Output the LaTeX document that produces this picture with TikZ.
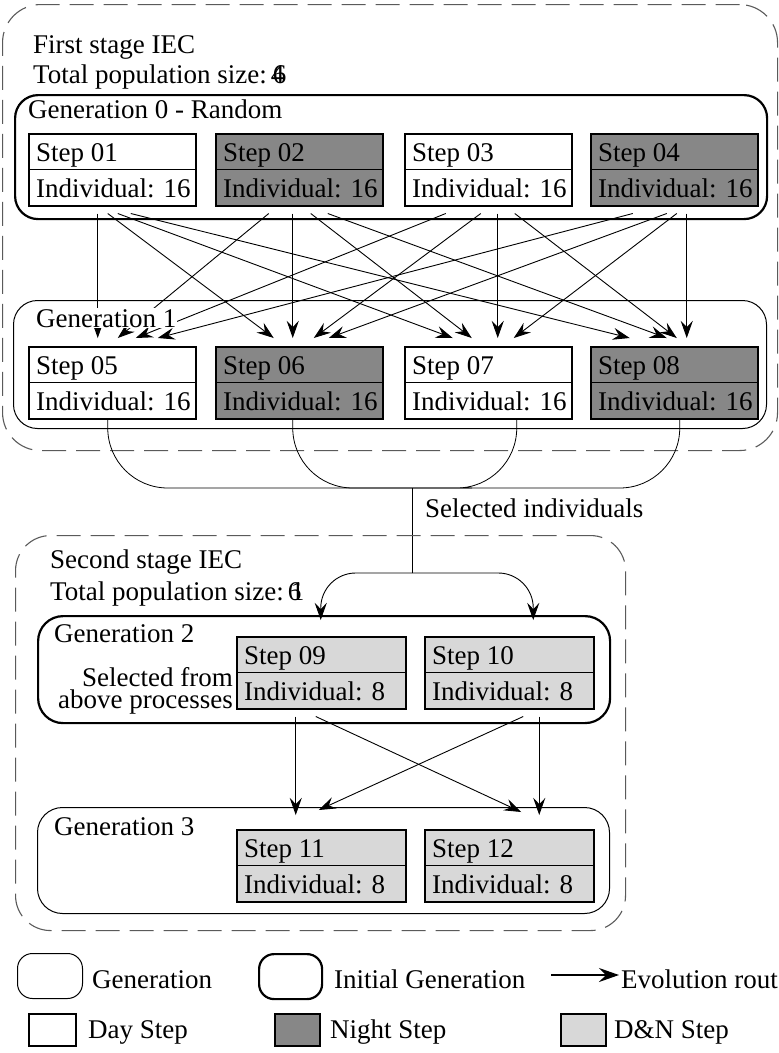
\documentclass[tikz,border=0pt]{standalone}
\usepackage{fontspec}
\setmainfont{Liberation Serif}
\usetikzlibrary{arrows.meta}

\definecolor{nightgray}{RGB}{135,135,135}
\definecolor{dngray}{RGB}{216,216,216}
\definecolor{dashgray}{RGB}{90,90,90}

% One step cell: name, left, top, extra style, title, population
\newcommand\stepcell[6]{%
  \node[stepbox,#4] (#1) at (#2,#3) {};
  \draw[line width=1.2pt] (#1.west) -- (#1.east);
  \node[steplabel] (#1-title) at (#2+8,#3+28) {#5};
  \node[steplabel] (#1-count) at (#2+8,#3+64) {#6};
}
% Evolution route: source, dx, dy below its bottom, target, dx, dy above its top
\newcommand\evo[6]{%
  \draw[evo] ([xshift=#2pt,yshift=-#3pt]#1.south) -- ([xshift=#5pt,yshift=#6pt]#4.north);
}

\begin{document}
\begin{tikzpicture}[x=1pt,y=-1pt,
  font=\fontsize{27pt}{32pt}\selectfont,
  stagebox/.style={draw=dashgray, line width=1.1pt, dash pattern=on 24pt off 10pt,
    rounded corners=#1, anchor=north west, inner sep=0pt},
  genbox/.style={draw, line width=1pt, rounded corners=#1, anchor=north west, inner sep=0pt},
  initbox/.style={draw, line width=2.2pt, rounded corners=#1, anchor=north west, inner sep=0pt},
  stepbox/.style={draw, line width=1.5pt, fill=white, minimum width=167pt,
    minimum height=72pt, inner sep=0pt, anchor=north west},
  night/.style={fill=nightgray},
  dn/.style={fill=dngray, minimum width=169pt},
  steplabel/.style={anchor=base west, inner sep=0pt},
  txt/.style={anchor=base west, inner sep=0pt},
  thinline/.style={line width=0.8pt},
  evo/.style={line width=0.9pt, -{Stealth[length=17pt,width=12pt,inset=6pt]}},
]
\useasboundingbox (0,0) rectangle (779,1053);

% ---------- first stage ----------
\node[stagebox=38pt, minimum width=775pt, minimum height=446pt] (stage1) at (2,4) {};
\node[txt] (stage1-name) at (33,53) {First stage IEC};
\node[txt] (stage1-size) at (33,83) {Total population size:\hspace{4pt}\rlap{4}\hspace{2pt}6};

\node[initbox=23pt, minimum width=752pt, minimum height=124pt] (g0) at (14,94) {};
\node[txt] (g0-name) at (28,118) {Generation 0 - Random};

\node[genbox=24pt, minimum width=753pt, minimum height=128pt] (g1) at (13,300) {};

\stepcell{s01}{28}{133}{}{Step 01}{Individual: 16}
\stepcell{s02}{215}{133}{night}{Step 02}{Individual: 16}
\stepcell{s03}{404}{133}{}{Step 03}{Individual: 16}
\stepcell{s04}{590}{133}{night}{Step 04}{Individual: 16}

\stepcell{s05}{28}{346}{}{Step 05}{Individual: 16}
\stepcell{s06}{215}{346}{night}{Step 06}{Individual: 16}
\stepcell{s07}{404}{346}{}{Step 07}{Individual: 16}
\stepcell{s08}{590}{346}{night}{Step 08}{Individual: 16}

% every step of generation 0 feeds every step of generation 1
\evo{s01}{-14.5}{7}{s05}{-14.5}{8}
\evo{s01}{-4.5}{7}{s06}{-25.5}{8}
\evo{s01}{5.5}{7}{s07}{-35.5}{8}
\evo{s01}{18.5}{7}{s08}{-44.5}{8}

\evo{s02}{-30.5}{7}{s05}{5.5}{8}
\evo{s02}{-6.5}{7}{s06}{-6.5}{8}
\evo{s02}{11.5}{7}{s07}{-16.5}{8}
\evo{s02}{28.5}{7}{s08}{-7.5}{8}

\evo{s03}{-42.5}{7}{s05}{23.5}{8}
\evo{s03}{-7.5}{7}{s06}{14.5}{8}
\evo{s03}{9.5}{7}{s07}{9.5}{8}
\evo{s03}{26.5}{7}{s08}{2.5}{8}

\evo{s04}{-41.5}{7}{s05}{45.5}{8}
\evo{s04}{-7.5}{7}{s06}{29.5}{8}
\evo{s04}{2.5}{7}{s07}{25.5}{8}
\evo{s04}{12.5}{7}{s08}{12.5}{8}

\node[anchor=base west, inner sep=1pt, fill=white] (g1-name) at (35,327) {Generation 1};

% ---------- selection between the stages ----------
\coordinate (merge) at (412,488);
\coordinate (split) at (412,573);
\draw[thinline, rounded corners=60pt] ([xshift=-4.5pt]s05.south) |- (merge) -| ([xshift=28.5pt]s07.south);
\draw[thinline, rounded corners=60pt] ([xshift=-6.5pt]s06.south) |- (merge) -| ([xshift=5.5pt]s08.south);
\draw[thinline] (merge) -- (split);
\node[txt] (sel-name) at (425,517) {Selected individuals};

% ---------- second stage ----------
\node[stagebox=35pt, minimum width=610pt, minimum height=395pt] (stage2) at (15,535) {};
\node[txt] (stage2-name) at (50,568) {Second stage IEC};
\node[txt] (stage2-size) at (50,600) {Total population size:\hspace{4pt}\rlap{6}\hspace{3pt}1};

\node[initbox=25pt, minimum width=572pt, minimum height=107pt] (g2) at (37,615) {};
\node[txt] (g2-name) at (54,642) {Generation 2};
\node[anchor=base east, inner sep=0pt] (g2-src1) at (233,686) {Selected from};
\node[anchor=base east, inner sep=0pt] (g2-src2) at (233,708) {above processes};

\node[genbox=25pt, minimum width=572pt, minimum height=106pt] (g3) at (37,807) {};
\node[txt] (g3-name) at (54,835) {Generation 3};

\stepcell{s09}{236}{636}{dn}{Step 09}{Individual: 8}
\stepcell{s10}{424}{636}{dn}{Step 10}{Individual: 8}
\stepcell{s11}{236}{829}{dn}{Step 11}{Individual: 8}
\stepcell{s12}{424}{829}{dn}{Step 12}{Individual: 8}

\draw[evo, rounded corners=35pt] (split) -| ([xshift=-0.5pt,yshift=16pt]s09.north);
\draw[evo, rounded corners=35pt] (split) -| ([xshift=24pt,yshift=16pt]s10.north);

\evo{s09}{-25.5}{7}{s11}{-25.5}{14}
\evo{s09}{-5.5}{7}{s12}{12}{17}
\evo{s10}{14}{7}{s11}{-2.5}{19}
\evo{s10}{30}{7}{s12}{30}{14}

% ---------- legend ----------
\node[genbox=15pt, minimum width=65pt, minimum height=45pt] (lg-gen) at (17,953) {};
\node[txt] (lg-gen-text) at (92,988) {Generation};
\node[initbox=15pt, minimum width=63pt, minimum height=45pt] (lg-init) at (258,953) {};
\node[txt] (lg-init-text) at (334,988) {Initial Generation};
\coordinate (lg-arrow-start) at (551,975);
\coordinate (lg-arrow-end) at (619,975);
\draw[line width=1.4pt, -{Stealth[length=20pt,width=14pt,inset=7pt]}] (lg-arrow-start) -- (lg-arrow-end);
\node[txt] (lg-arrow-text) at (621,988) {Evolution rout};

\node[stepbox, minimum width=47pt, minimum height=32pt] (lg-day) at (28,1013) {};
\node[txt] (lg-day-text) at (88,1038) {Day Step};
\node[stepbox, night, minimum width=45pt, minimum height=32pt] (lg-night) at (274,1013) {};
\node[txt] (lg-night-text) at (330,1038) {Night Step};
\node[stepbox, fill=dngray, minimum width=45pt, minimum height=32pt] (lg-dn) at (560,1013) {};
\node[txt] (lg-dn-text) at (614,1038) {D\&N Step};
\end{tikzpicture}
\end{document}
